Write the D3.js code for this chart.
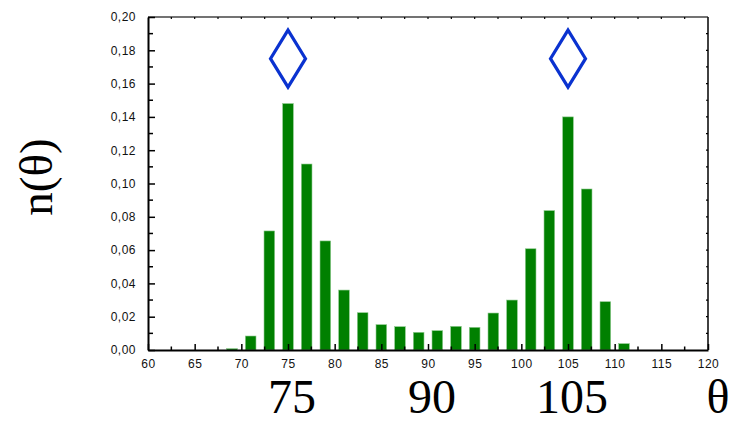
<!DOCTYPE html>
<html>
<head>
<meta charset="utf-8">
<script src="https://cdn.jsdelivr.net/npm/d3@7/dist/d3.min.js"></script>
<style>
  html, body { margin: 0; padding: 0; background: #fff; }
  svg { display: block; }
</style>
</head>
<body>
<svg id="chart" width="736" height="424"></svg>
<script>
// Angle bins (degrees) and their fraction n(θ)
const angles = [69, 71, 73, 75, 77, 79, 81, 83, 85, 87, 89, 91, 93, 95, 97, 99, 101, 103, 105, 107, 109, 111];
const fractions = [0.0008, 0.0084, 0.0715, 0.148, 0.1117, 0.0655, 0.036, 0.0224, 0.0152, 0.014, 0.0106, 0.0116,
                   0.0142, 0.0136, 0.0222, 0.030, 0.0608, 0.0837, 0.140, 0.0967, 0.029, 0.0038];

// Reference angles marked with diamonds above the peaks
const markerAngles = [75, 105];
const markerLevel = 0.175;

// Large reference labels under the axis
const referenceLabels = ["75", "90", "105"];
const referenceAngles = [75, 90, 105];

// Axis ticks
const xTicks = [60, 65, 70, 75, 80, 85, 90, 95, 100, 105, 110, 115, 120];
const xMinorTicks = [62.5, 67.5, 72.5, 77.5, 82.5, 87.5, 92.5, 97.5, 102.5, 107.5, 112.5, 117.5];
const yTicks = [0, 0.02, 0.04, 0.06, 0.08, 0.10, 0.12, 0.14, 0.16, 0.18, 0.20];
const yMinorTicks = [0.01, 0.03, 0.05, 0.07, 0.09, 0.11, 0.13, 0.15, 0.17, 0.19];

const svg = d3.select("#chart");
const plotLeft = 148, plotRight = 708, plotTop = 17, plotBottom = 350;

const x = d3.scaleLinear().domain([60, 120]).range([plotLeft, plotRight]);
const y = d3.scaleLinear().domain([0, 0.20]).range([plotBottom, plotTop]);
const binWidth = 1.14;

// Bars
svg.append("g")
  .selectAll("rect")
  .data(angles.map((a, i) => ({ a, v: fractions[i] })))
  .join("rect")
  .attr("x", d => x(d.a - binWidth / 2))
  .attr("width", d => x(d.a + binWidth / 2) - x(d.a - binWidth / 2))
  .attr("y", d => y(d.v))
  .attr("height", d => y(0) - y(d.v))
  .attr("fill", "#008000")
  .attr("stroke", "#8cc88c")
  .attr("stroke-width", 0.6);

// Frame: top and right edges with small inner ticks
svg.append("line").attr("x1", plotLeft).attr("x2", plotRight).attr("y1", plotTop).attr("y2", plotTop)
  .attr("stroke", "#444").attr("stroke-width", 1.6);
svg.append("line").attr("x1", plotRight).attr("x2", plotRight).attr("y1", plotTop).attr("y2", plotBottom)
  .attr("stroke", "#111").attr("stroke-width", 1.6);

svg.append("g").selectAll("line")
  .data(xTicks.concat(xMinorTicks).filter(t => t > 60 && t < 120))
  .join("line")
  .attr("x1", d => x(d)).attr("x2", d => x(d))
  .attr("y1", plotTop).attr("y2", plotTop + 2)
  .attr("stroke", "#000").attr("stroke-width", 1.2);

svg.append("g").selectAll("line")
  .data(yTicks.concat(yMinorTicks).filter(t => t > 0 && t < 0.2))
  .join("line")
  .attr("x1", plotRight).attr("x2", plotRight - 2)
  .attr("y1", d => y(d)).attr("y2", d => y(d))
  .attr("stroke", "#000").attr("stroke-width", 1.2);

// Bottom axis
const xAxis = d3.axisBottom(x).tickValues(xTicks).tickSizeInner(-6).tickSizeOuter(0)
  .tickPadding(9).tickFormat(d3.format("d"));
const gx = svg.append("g").attr("transform", `translate(0,${plotBottom})`).call(xAxis);
gx.select(".domain").attr("stroke", "#000").attr("stroke-width", 2);
gx.selectAll(".tick line").attr("stroke-width", 1.5);
gx.selectAll("text").attr("font-family", "Liberation Sans, Arial, sans-serif")
  .attr("font-size", 12).attr("fill", "#111").attr("letter-spacing", "0.5px");
svg.append("g").selectAll("line").data(xMinorTicks).join("line")
  .attr("x1", d => x(d)).attr("x2", d => x(d))
  .attr("y1", plotBottom).attr("y2", plotBottom - 3.5)
  .attr("stroke", "#000").attr("stroke-width", 1.5);

// Left axis
const yAxis = d3.axisLeft(y).tickValues(yTicks).tickSizeInner(-7).tickSizeOuter(0)
  .tickPadding(12).tickFormat(d => d3.format(".2f")(d).replace(".", ","));
const gy = svg.append("g").attr("transform", `translate(${plotLeft},0)`).call(yAxis);
gy.select(".domain").attr("stroke", "#000").attr("stroke-width", 2);
gy.selectAll(".tick line").attr("stroke-width", 1.5);
gy.selectAll("text").attr("font-family", "Liberation Sans, Arial, sans-serif")
  .attr("font-size", 12).attr("fill", "#111").attr("letter-spacing", "0.5px");
svg.append("g").selectAll("line").data(yMinorTicks).join("line")
  .attr("x1", plotLeft).attr("x2", plotLeft + 5)
  .attr("y1", d => y(d)).attr("y2", d => y(d))
  .attr("stroke", "#000").attr("stroke-width", 1.5);

// Diamond markers
const halfW = 17.5, halfH = 28.5;
svg.append("g").selectAll("path")
  .data(markerAngles)
  .join("path")
  .attr("d", a => {
    const cx = x(a), cy = y(markerLevel);
    return `M${cx},${cy - halfH}L${cx + halfW},${cy}L${cx},${cy + halfH}L${cx - halfW},${cy}Z`;
  })
  .attr("fill", "none")
  .attr("stroke", "#0a32d0")
  .attr("stroke-width", 3.2)
  .attr("stroke-linejoin", "miter");

// Large reference labels
svg.append("g").selectAll("text")
  .data(referenceAngles)
  .join("text")
  .attr("x", a => x(a) + 4)
  .attr("y", 413)
  .attr("text-anchor", "middle")
  .attr("font-family", "Liberation Serif, Times New Roman, serif")
  .attr("font-size", 48)
  .attr("fill", "#000")
  .text((a, i) => referenceLabels[i]);

svg.append("text")
  .attr("x", 718).attr("y", 413)
  .attr("text-anchor", "middle")
  .attr("font-family", "Liberation Serif, Times New Roman, serif")
  .attr("font-size", 48)
  .text("θ");

svg.append("text")
  .attr("transform", "translate(52,177) rotate(-90)")
  .attr("text-anchor", "middle")
  .attr("font-family", "Liberation Serif, Times New Roman, serif")
  .attr("font-size", 47)
  .text("n(θ)");
</script>
</body>
</html>
